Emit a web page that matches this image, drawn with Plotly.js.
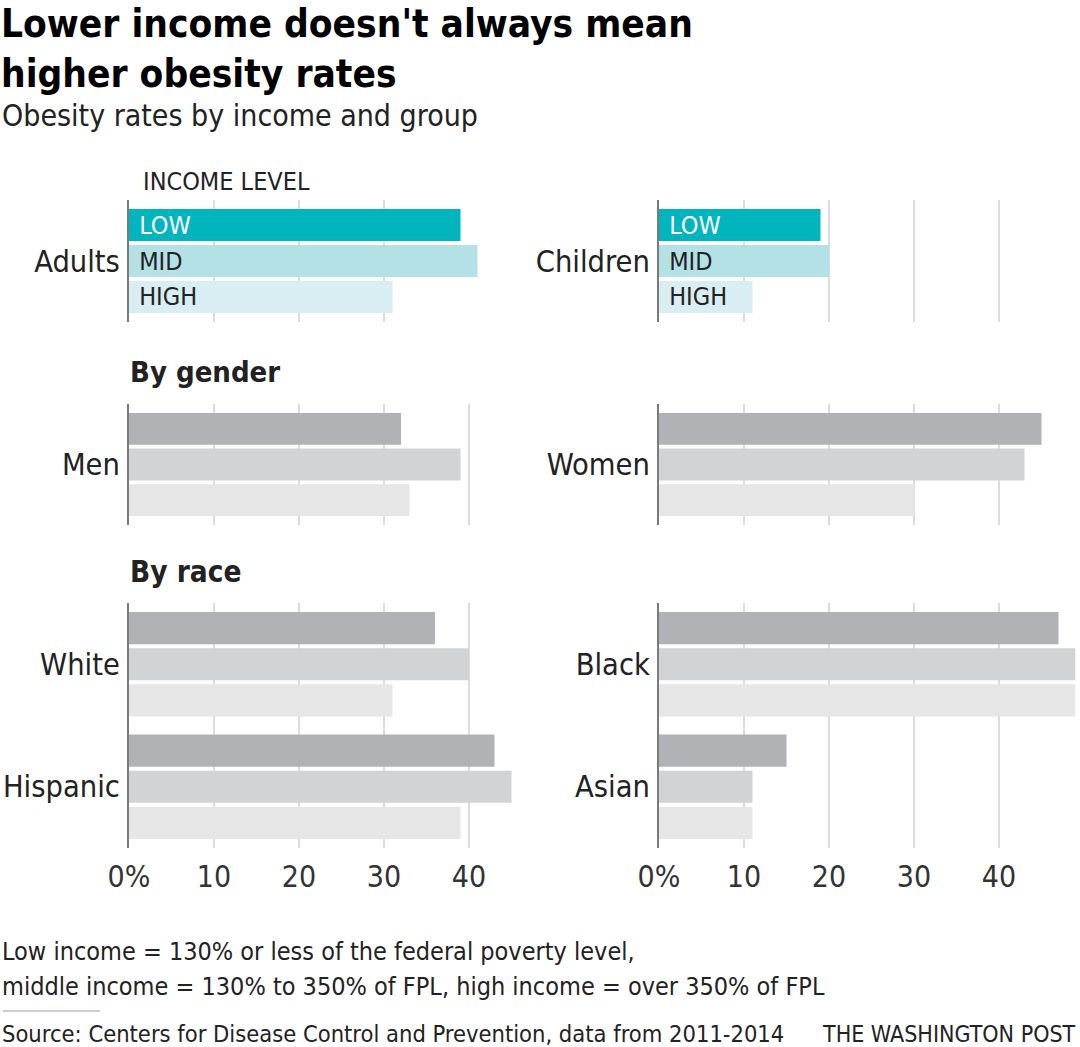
<!DOCTYPE html>
<html>
<head>
<meta charset="utf-8">
<script src="https://cdn.plot.ly/plotly-3.0.1.min.js"></script>
<style>html,body{margin:0;padding:0;background:#fff;}#chart{width:1080px;height:1047px;}</style>
</head>
<body>
<div id="chart"></div>
<script>
// ---- data ----
const incomeLevels = ['LOW', 'MID', 'HIGH'];
const adultsCats = ['Adults'];
const childrenCats = ['Children'];
const genderLeftCats = ['Men'];
const genderRightCats = ['Women'];
const raceLeftCats = ['White', 'Hispanic'];
const raceRightCats = ['Black', 'Asian'];
const adultsValues = [39, 41, 31];      // LOW, MID, HIGH
const childrenValues = [19, 20, 11];
const menValues = [32, 39, 33];
const womenValues = [45, 43, 30];
const whiteValues = [36, 40, 31];
const hispanicValues = [43, 45, 39];
const blackValues = [47, 49, 49];
const asianValues = [15, 11, 11];
const xTickVals = [0, 10, 20, 30, 40];
const xTickText = ['0%', '10', '20', '30', '40'];

// ---- styles ----
const FONT = "'Liberation Sans Narrow', 'DejaVu Sans Condensed', 'Roboto', sans-serif";
const tealColors = ['#00b5bd', '#b3e1e6', '#d8eef2'];
const tealText = ['#ffffff', '#222222', '#222222'];
const grayColors = ['#b1b2b5', '#d2d3d5', '#e6e6e7'];
const W = 1080, H = 1047;
const px = v => v / W;
const py = v => 1 - v / H;

const traces = [];
function addPanel(cats, seriesList, xa, ya, colors, withText) {
  incomeLevels.forEach((lvl, i) => {
    const t = {
      type: 'bar', orientation: 'h',
      y: cats, x: seriesList.map(s => s[i]),
      xaxis: xa, yaxis: ya,
      marker: {color: colors[i]},
      showlegend: false, hoverinfo: 'x+y',
      cliponaxis: true
    };
    if (withText) {
      t.text = cats.map(() => '\u00a0' + lvl);
      t.textposition = 'inside';
      t.insidetextanchor = 'start';
      t.constraintext = 'none';
      t.textfont = {family: FONT, size: 25, color: tealText[i]};
    }
    traces.push(t);
  });
}
addPanel(adultsCats, [adultsValues], 'x', 'y', tealColors, true);
addPanel(childrenCats, [childrenValues], 'x2', 'y2', tealColors, true);
addPanel(genderLeftCats, [menValues], 'x3', 'y3', grayColors, false);
addPanel(genderRightCats, [womenValues], 'x4', 'y4', grayColors, false);
addPanel(raceLeftCats, [whiteValues, hispanicValues], 'x5', 'y5', grayColors, false);
addPanel(raceRightCats, [blackValues, asianValues], 'x6', 'y6', grayColors, false);

const leftDom = [px(129), px(545.5)];
const rightDom = [px(659), px(1075.5)];
const row1 = [py(322), py(200)];
const row2 = [py(525), py(404)];
const row3 = [py(848), py(603)];

function xAxis(dom, anchor, showLabels, tv) {
  return {
    domain: dom, anchor: anchor, range: [0, 49], fixedrange: true,
    tickvals: tv || xTickVals, ticktext: xTickText,
    showgrid: true, gridcolor: '#dcdcdc', gridwidth: 2,
    zeroline: false, showline: false, ticks: '',
    showticklabels: showLabels,
    ticklabelstandoff: 8,
    tickfont: {family: FONT, size: 30, color: '#333'}
  };
}
function yAxis(dom, anchor) {
  return {
    domain: dom, anchor: anchor, type: 'category', autorange: 'reversed',
    fixedrange: true, showgrid: false, zeroline: false,
    showline: true, linecolor: '#7a7a7a', linewidth: 2,
    ticks: '', ticklabelstandoff: 1,
    tickfont: {family: FONT, size: 30.5, color: '#222'}
  };
}

const annotations = [{
  text: "Lower income doesn't always mean<br>higher obesity rates",
  xref: 'paper', yref: 'paper', x: 0, y: 1, xanchor: 'left', yanchor: 'top', align: 'left',
  showarrow: false, borderpad: 0,
  font: {family: FONT, size: 38.5, color: '#000', weight: 'bold'}
}];

const small = [
  {text: 'Obesity rates by income and group', y: 116, size: 30, x: 0},
  {text: 'INCOME LEVEL', y: 181, size: 25, x: 141},
  {text: 'By gender', y: 372, size: 29, x: 128, bold: true},
  {text: 'By race', y: 572, size: 29.5, x: 128, bold: true},
  {text: 'Low income = 130% or less of the federal poverty level,', y: 951, size: 25, x: 0},
  {text: 'middle income = 130% to 350% of FPL, high income = over 350% of FPL', y: 986, size: 25, x: 0},
  {text: 'Source: Centers for Disease Control and Prevention, data from 2011-2014', y: 1034, size: 23.5, x: 0},
  {text: 'THE WASHINGTON POST', y: 1034, size: 23, x: 820}
];
small.forEach(s => annotations.push({
  text: s.text, xref: 'paper', yref: 'paper', x: px(s.x), y: py(s.y),
  xanchor: 'left', yanchor: 'middle', showarrow: false,
  font: {family: FONT, size: s.size, color: '#222', weight: s.bold ? 'bold' : 'normal'}
}));

const layout = {
  width: W, height: H,
  margin: {l: 0, r: 0, t: 0, b: 0},
  paper_bgcolor: '#fff', plot_bgcolor: 'rgba(0,0,0,0)',
  barmode: 'group', bargap: 0.115, bargroupgap: 0.11,
  showlegend: false,
  font: {family: FONT, color: '#222'},
  xaxis: xAxis(leftDom, 'y', false, [0, 10, 20, 30]),
  yaxis: yAxis(row1, 'x'),
  xaxis2: xAxis(rightDom, 'y2', false),
  yaxis2: yAxis(row1, 'x2'),
  xaxis3: xAxis(leftDom, 'y3', false),
  yaxis3: yAxis(row2, 'x3'),
  xaxis4: xAxis(rightDom, 'y4', false),
  yaxis4: yAxis(row2, 'x4'),
  xaxis5: xAxis(leftDom, 'y5', true),
  yaxis5: yAxis(row3, 'x5'),
  xaxis6: xAxis(rightDom, 'y6', true),
  yaxis6: yAxis(row3, 'x6'),
  annotations: annotations,
  shapes: [{type: 'line', xref: 'paper', yref: 'paper', x0: px(3), x1: px(100), y0: py(1011), y1: py(1011),
            line: {color: '#cccccc', width: 2}}]
};

Plotly.newPlot('chart', traces, layout, {displayModeBar: false, staticPlot: true});
</script>
</body>
</html>
